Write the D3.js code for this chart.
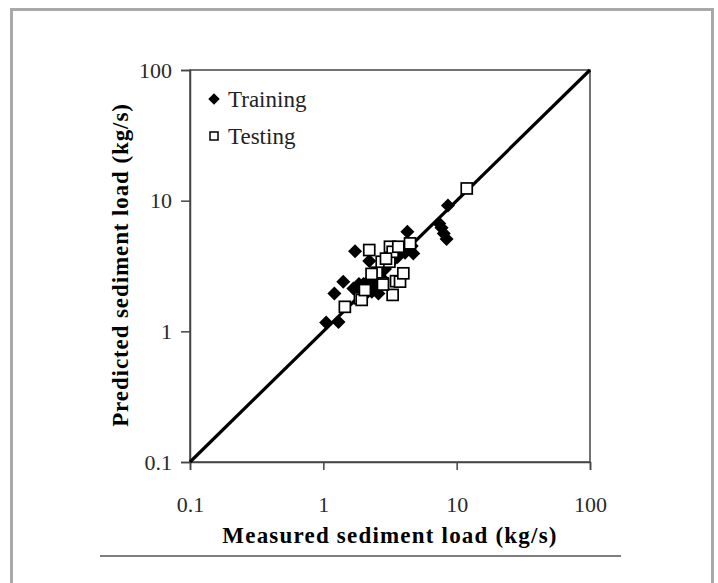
<!DOCTYPE html>
<html>
<head>
<meta charset="utf-8">
<script src="https://cdn.jsdelivr.net/npm/d3@7"></script>
<style>
  body { margin: 0; background: #fff; }
  text { font-family: "Liberation Serif", "Times New Roman", serif; }
</style>
</head>
<body>
<div class="canva"></div>
<script>
// tick values for both log axes
var tickVals = [0.1, 1, 10, 100];

// training points, measured (x) vs predicted (y), kg/s
var trainX = [1.05, 1.3, 1.21, 1.41, 1.68, 1.73, 1.9, 2.05, 2.2, 2.21, 2.3, 2.45, 2.6, 2.7, 2.9, 3.1, 3.3, 3.6, 4.1, 4.27, 4.6, 4.73, 2.31, 2.59, 1.85, 2.15, 2.0, 2.4, 2.55, 2.75, 7.4, 7.7, 8.0, 8.4, 8.6];
var trainY = [1.17, 1.18, 1.95, 2.40, 2.13, 4.10, 2.05, 2.25, 2.45, 3.45, 2.35, 2.55, 2.65, 2.85, 3.0, 3.3, 3.45, 3.7, 4.0, 5.78, 4.5, 3.95, 2.01, 1.95, 2.3, 2.0, 2.3, 2.15, 2.45, 2.55, 6.7, 6.2, 5.6, 5.1, 9.2];

// testing points
var testX = [1.45, 1.88, 1.94, 2.05, 2.21, 2.51, 2.74, 2.79, 3.13, 3.16, 3.31, 3.65, 4.47, 3.51, 3.76, 3.98, 3.31, 2.8, 11.9, 2.3, 2.95];
var testY = [1.54, 1.79, 1.74, 2.07, 4.19, 2.81, 3.41, 2.33, 3.41, 4.44, 4.06, 4.44, 4.71, 2.42, 2.40, 2.78, 1.90, 2.28, 12.4, 2.75, 3.6];

var legendLabels = ["Training", "Testing"];

var W = 718, H = 583;
var svg = d3.select(".canva").append("svg")
  .attr("width", W)
  .attr("height", H);

// outer grey frame (open at bottom)
svg.append("path")
  .attr("d", "M11.5," + (H + 5) + " L11.5,9.5 L712.5,9.5 L712.5," + (H + 5))
  .attr("fill", "none")
  .attr("stroke", "#a9a9a9")
  .attr("stroke-width", 3);

var x = d3.scaleLog().domain([0.1, 100]).range([190, 590]);
var y = d3.scaleLog().domain([0.1, 100]).range([462, 70]);

var fmt = function(d) { return d < 1 ? "0.1" : String(d); };

// plot box
svg.append("rect")
  .attr("x", x(0.1)).attr("y", y(100))
  .attr("width", x(100) - x(0.1)).attr("height", y(0.1) - y(100))
  .attr("fill", "none").attr("stroke", "#444").attr("stroke-width", 1.5);

var xAxis = svg.append("g")
  .attr("transform", "translate(0," + y(0.1) + ")")
  .call(d3.axisBottom(x).tickValues(tickVals).tickFormat(fmt).tickSize(8).tickPadding(26));
var yAxis = svg.append("g")
  .attr("transform", "translate(" + x(0.1) + ",0)")
  .call(d3.axisLeft(y).tickValues(tickVals).tickFormat(fmt).tickSize(9).tickPadding(9));

[xAxis, yAxis].forEach(function(a) {
  a.select(".domain").attr("stroke", "#444").attr("stroke-width", 1.5);
  a.selectAll(".tick line").attr("stroke", "#444").attr("stroke-width", 1.5);
  a.selectAll(".tick text")
    .style("font-family", "Liberation Serif")
    .style("font-size", "22px")
    .attr("fill", "#2a2a2a");
});

// 1:1 line
svg.append("line")
  .attr("x1", x(0.1)).attr("y1", y(0.1))
  .attr("x2", x(100)).attr("y2", y(100))
  .attr("stroke", "#000").attr("stroke-width", 3.2);

var diamond = d3.symbol().type(d3.symbolDiamond2).size(125);

svg.selectAll(".train")
  .data(trainX)
  .enter().append("path")
  .attr("class", "train")
  .attr("d", diamond)
  .attr("fill", "#000")
  .attr("transform", function(d, i) { return "translate(" + x(d) + "," + y(trainY[i]) + ")"; });

svg.selectAll(".test")
  .data(testX)
  .enter().append("rect")
  .attr("class", "test")
  .attr("x", function(d) { return x(d) - 5.5; })
  .attr("y", function(d, i) { return y(testY[i]) - 5.5; })
  .attr("width", 11).attr("height", 11)
  .attr("fill", "#fff").attr("stroke", "#000").attr("stroke-width", 1.7);

// legend
var lg = svg.append("g");
lg.append("path")
  .attr("d", d3.symbol().type(d3.symbolDiamond2).size(85))
  .attr("transform", "translate(214,99)");
lg.append("rect")
  .attr("x", 210).attr("y", 132).attr("width", 8).attr("height", 8)
  .attr("fill", "#fff").attr("stroke", "#000").attr("stroke-width", 1.5);
lg.selectAll("text")
  .data(legendLabels)
  .enter().append("text")
  .attr("x", 228)
  .attr("y", function(d, i) { return 107 + i * 37; })
  .style("font-size", "23px")
  .attr("fill", "#222")
  .text(function(d) { return d; });

// axis titles
svg.append("text")
  .attr("x", 390).attr("y", 543)
  .attr("text-anchor", "middle")
  .style("font-size", "23px").style("font-weight", "bold")
  .style("letter-spacing", "1.2px")
  .text("Measured sediment load (kg/s)");

svg.append("text")
  .attr("transform", "translate(128,265) rotate(-90)")
  .attr("text-anchor", "middle")
  .style("font-size", "23px").style("font-weight", "bold")
  .style("letter-spacing", "0.9px")
  .text("Predicted sediment load (kg/s)");

// rule under the figure
svg.append("line")
  .attr("x1", 100).attr("x2", 621).attr("y1", 556).attr("y2", 556)
  .attr("stroke", "#555").attr("stroke-width", 1.5);
</script>
</body>
</html>
